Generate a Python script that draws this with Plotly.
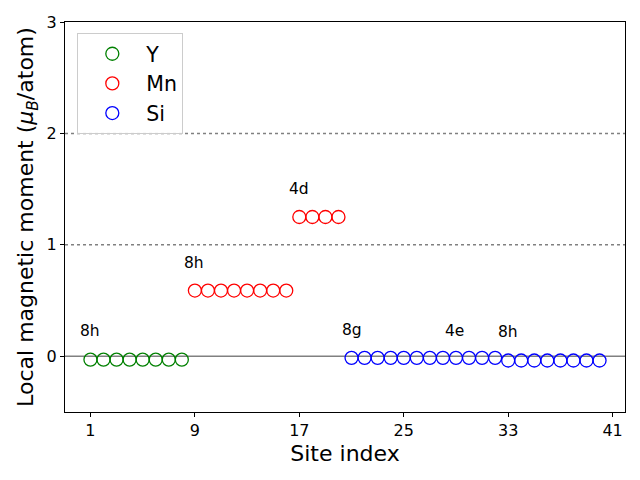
import plotly.graph_objects as go

y_sites = [1, 2, 3, 4, 5, 6, 7, 8]
y_moments = [-0.03, -0.03, -0.03, -0.03, -0.03, -0.03, -0.03, -0.03]

mn_sites = [9, 10, 11, 12, 13, 14, 15, 16, 17, 18, 19, 20]
mn_moments = [0.59, 0.59, 0.59, 0.59, 0.59, 0.59, 0.59, 0.59, 1.25, 1.25, 1.25, 1.25]

si_sites = list(range(21, 41))
si_moments = [-0.014] * 12 + [-0.038] * 8

label_text = ["8h", "8h", "4d", "8g", "4e", "8h"]
label_x = [1, 8.9, 17, 21, 28.9, 33]
label_y = [0.23, 0.84, 1.5, 0.24, 0.23, 0.22]

x_ticks = [1, 9, 17, 25, 33, 41]
y_ticks = [0, 1, 2, 3]

font = "DejaVu Sans"

fig = go.Figure()
for name, xs, ys, col in [("Y", y_sites, y_moments, "green"),
                          ("Mn", mn_sites, mn_moments, "red"),
                          ("Si", si_sites, si_moments, "blue")]:
    fig.add_trace(go.Scatter(
        x=xs, y=ys, mode="markers", name=name,
        marker=dict(symbol="circle-open", size=13, color=col, line=dict(width=1.3, color=col)),
    ))

for t, x, y in zip(label_text, label_x, label_y):
    fig.add_annotation(x=x, y=y, text=t, showarrow=False, xanchor="center", yanchor="middle",
                       font=dict(family=font, size=15.5, color="black"))

fig.add_shape(type="line", xref="paper", yref="y", x0=0, x1=1, y0=0, y1=0,
              line=dict(color="grey", width=1.5), layer="below")
for yv in [1, 2]:
    fig.add_shape(type="line", xref="paper", yref="y", x0=0, x1=1, y0=yv, y1=yv,
                  line=dict(color="grey", width=1.5, dash="dot"), layer="below")

fig.update_layout(
    width=640, height=480,
    margin=dict(l=65, r=15, t=22, b=68),
    paper_bgcolor="white", plot_bgcolor="white",
    font=dict(family=font, size=16, color="black"),
    showlegend=True,
    legend=dict(x=0.022, y=0.972, xanchor="left", yanchor="top",
                font=dict(family=font, size=20.5, color="black"),
                bgcolor="rgba(255,255,255,0.8)", bordercolor="#cccccc", borderwidth=1,
                itemwidth=58),
    xaxis=dict(range=[-0.95, 41.95], tickvals=x_ticks, ticks="outside", ticklen=4,
               tickcolor="black", showgrid=False, zeroline=False,
               showline=True, linecolor="black", linewidth=1, mirror=True,
               title=dict(text="Site index", font=dict(family=font, size=22), standoff=6),
               tickfont=dict(family=font, size=16)),
    yaxis=dict(range=[-0.5, 3], tickvals=y_ticks, ticks="outside", ticklen=4,
               tickcolor="black", showgrid=False, zeroline=False,
               showline=True, linecolor="black", linewidth=1, mirror=True,
               title=dict(text="Local magnetic moment (<i>μ<sub>B</sub></i>/atom)",
                          font=dict(family=font, size=22), standoff=6),
               tickfont=dict(family=font, size=16)),
)

fig.write_html("out.html")
